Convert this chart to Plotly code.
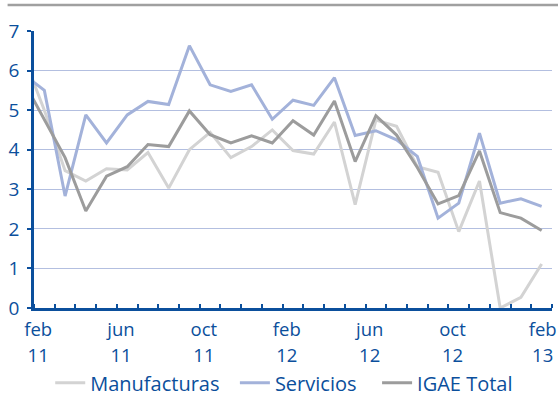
import plotly.graph_objects as go

# Months: "ene 11" is the partially visible month clipped at the left edge
months = ["ene 11", "feb 11", "mar 11", "abr 11", "may 11", "jun 11", "jul 11", "ago 11",
          "sep 11", "oct 11", "nov 11", "dic 11", "ene 12", "feb 12", "mar 12", "abr 12",
          "may 12", "jun 12", "jul 12", "ago 12", "sep 12", "oct 12", "nov 12", "dic 12",
          "ene 13", "feb 13"]

manufacturas = [6.35, 5.0, 3.47, 3.21, 3.52, 3.49, 3.93, 3.03, 4.0, 4.44, 3.80, 4.08, 4.5,
                3.98, 3.89, 4.7, 2.61, 4.75, 4.59, 3.57, 3.43, 1.93, 3.21, 0.0, 0.27, 1.11]
servicios = [5.9, 5.5, 2.83, 4.88, 4.17, 4.88, 5.22, 5.14, 6.63, 5.64, 5.47, 5.64, 4.77,
             5.25, 5.12, 5.82, 4.36, 4.48, 4.25, 3.83, 2.27, 2.65, 4.42, 2.65, 2.76, 2.57]
igae_total = [5.72, 4.77, 3.8, 2.45, 3.33, 3.57, 4.13, 4.08, 4.98, 4.38, 4.17, 4.35, 4.17,
              4.73, 4.37, 5.23, 3.70, 4.86, 4.37, 3.55, 2.63, 2.84, 3.97, 2.41, 2.27, 1.96]

tick_months = ["feb 11", "jun 11", "oct 11", "feb 12", "jun 12", "oct 12", "feb 13"]
y_ticks = [0, 1, 2, 3, 4, 5, 6, 7]
series_names = ["Manufacturas", "Servicios", "IGAE Total"]

BLUE = "#0b4f9c"
GRID = "#b3bfe0"
C_MAN = "#d3d3d3"
C_SER = "#a3b2da"
C_IGAE = "#9c9c9c"

x_idx = [i - 1 for i in range(len(months))]  # feb 11 -> 0
pos = {m: i - 1 for i, m in enumerate(months)}

# legend spacing (non-breaking spaces widen the gaps between legend entries)
pad = {"Manufacturas": "\u00a0\u00a0", "Servicios": "\u00a0\u00a0\u00a0", "IGAE Total": ""}

fig = go.Figure()
for name, vals, col in zip(series_names, [manufacturas, servicios, igae_total],
                           [C_MAN, C_SER, C_IGAE]):
    fig.add_trace(go.Scatter(x=x_idx, y=vals, mode="lines", name=name + pad[name],
                             line=dict(color=col, width=3)))
# empty helper trace so the year axis is drawn
fig.add_trace(go.Scatter(x=[], y=[], xaxis="x2", showlegend=False, hoverinfo="skip"))

tickvals = [pos[m] - 0.3 if m != "feb 13" else pos[m] + 0.05 for m in tick_months]
month_text = [m.split(" ")[0] for m in tick_months]
year_text = [m.split(" ")[1] for m in tick_months]

H = 402
TOP = 31
PLOT_BOTTOM = 308
PAPER_BOTTOM = 330
paper_h = PAPER_BOTTOM - TOP
ydom0 = (PAPER_BOTTOM - PLOT_BOTTOM) / paper_h
XFONT = dict(family="Open Sans", size=18.5, color=BLUE)

fig.update_layout(
    width=558, height=H,
    margin=dict(l=34, r=6, t=TOP, b=H - PAPER_BOTTOM, autoexpand=False),
    paper_bgcolor="white", plot_bgcolor="white",
    font=dict(family="Open Sans", size=19, color=BLUE),
    showlegend=True,
    legend=dict(orientation="h", xref="container", yref="container",
                x=0.09, y=0.048, xanchor="left", yanchor="middle",
                font=dict(size=20, color=BLUE), itemwidth=30,
                bgcolor="rgba(0,0,0,0)"),
    xaxis=dict(range=[-0.5, 24.5], tickmode="array", tickvals=tickvals, ticktext=month_text,
               ticks="", showgrid=False, zeroline=False, automargin=False,
               showline=True, linecolor=BLUE, linewidth=3, tickfont=XFONT,
               minor=dict(tickmode="array",
                          tickvals=[k - 0.5 for k in range(len(months))],
                          ticks="inside", ticklen=4, tickwidth=2, tickcolor=BLUE,
                          showgrid=False),
               ticklabelstandoff=3),
    xaxis2=dict(range=[-0.5, 24.5], overlaying="x", anchor="free", position=0, side="bottom",
                tickmode="array", tickvals=tickvals, ticktext=year_text, tickfont=XFONT,
                ticks="", showgrid=False, zeroline=False, showline=False, automargin=False,
                ticklabelstandoff=12),
    yaxis=dict(range=[0, 7], domain=[ydom0, 1], tickmode="array", tickvals=y_ticks,
               automargin=False,
               showgrid=True, gridcolor=GRID, gridwidth=1, zeroline=False,
               showline=True, linecolor=BLUE, linewidth=2.5,
               ticks="outside", ticklen=4, tickwidth=2, tickcolor=BLUE,
               ticklabelstandoff=4),
    shapes=[dict(type="line", xref="paper", yref="paper",
                 x0=-0.051, x1=1.02, y0=(PAPER_BOTTOM - 5) / paper_h,
                 y1=(PAPER_BOTTOM - 5) / paper_h,
                 line=dict(color="#a0a0a0", width=2.5))],
)

fig.write_html("out.html", config={"displayModeBar": False},
               post_script="document.body.style.margin='0';")
